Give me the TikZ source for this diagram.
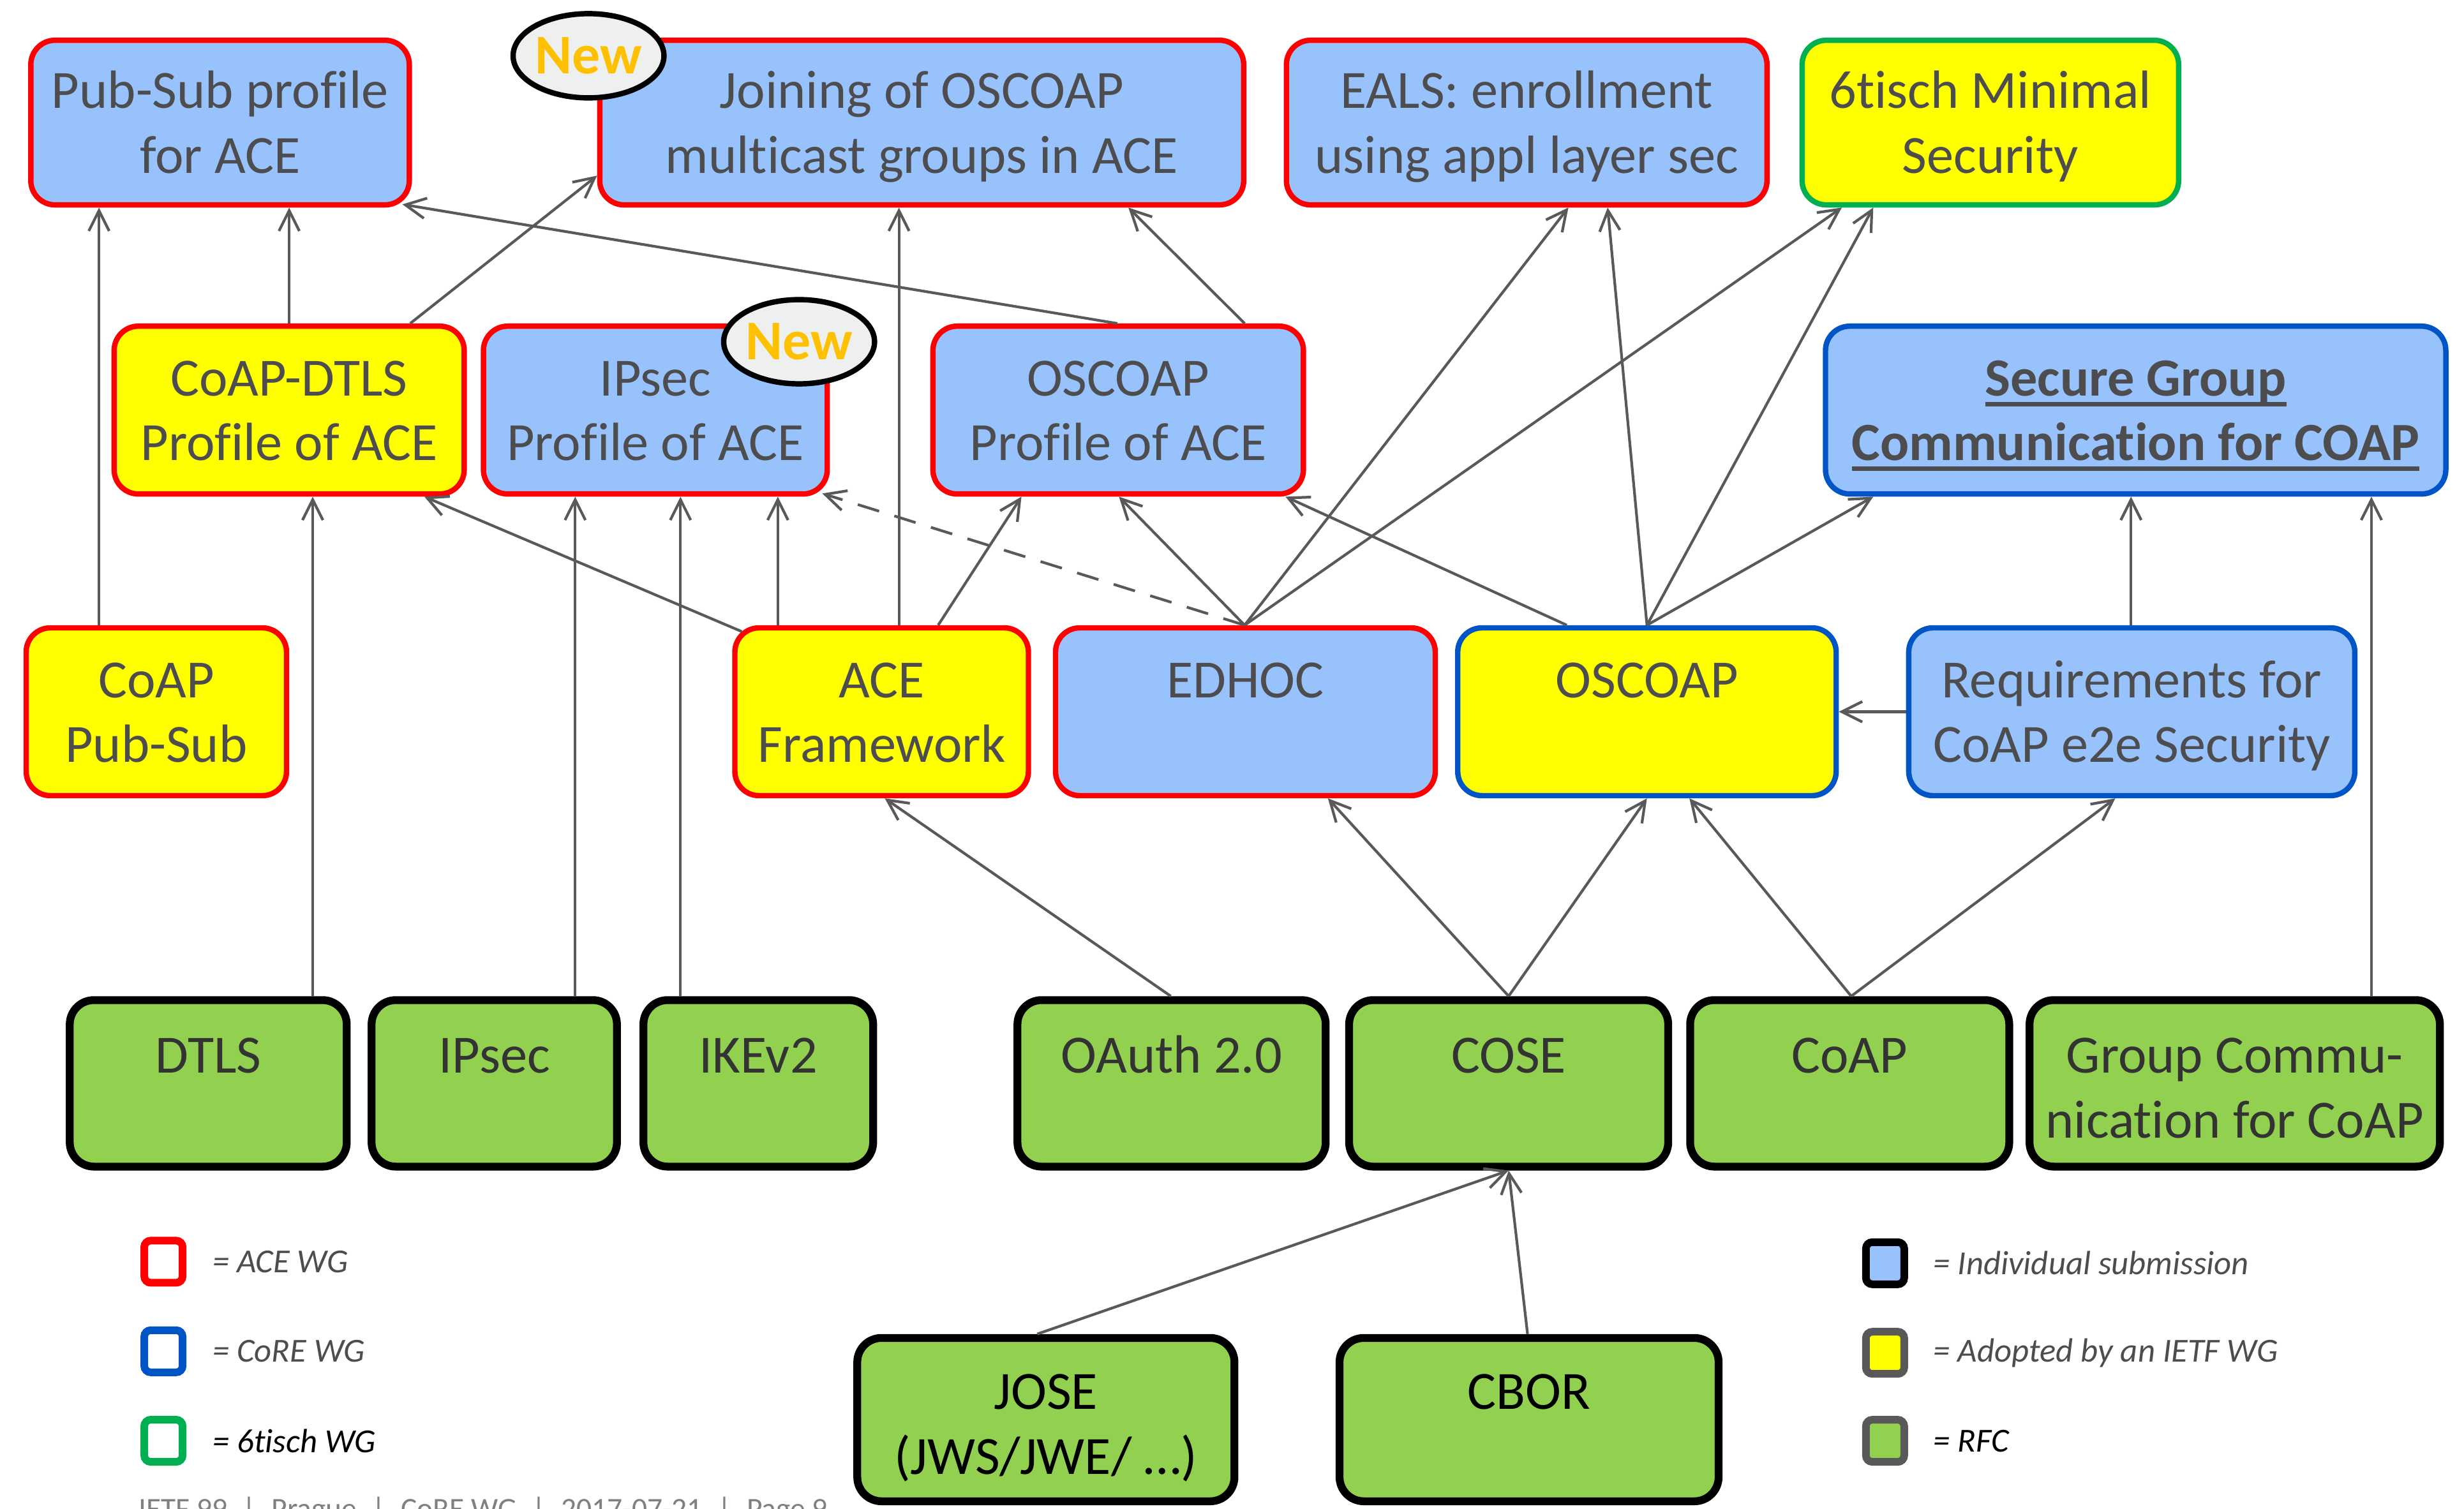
\documentclass[tikz,border=0pt]{standalone}
\usepackage{fontspec}
\setmainfont{Carlito}[Ligatures=NoCommon]
\usetikzlibrary{arrows.meta,shapes.geometric,calc}
\definecolor{sub}{RGB}{151,194,252}
\definecolor{adp}{RGB}{255,255,0}
\definecolor{rfcg}{RGB}{146,208,80}
\definecolor{acered}{RGB}{255,0,0}
\definecolor{corebl}{RGB}{0,85,198}
\definecolor{tschgr}{RGB}{0,176,80}
\definecolor{txt}{RGB}{77,77,79}
\definecolor{arrg}{RGB}{89,89,89}
\definecolor{newo}{RGB}{255,192,0}
\definecolor{newg}{RGB}{238,240,239}
\newcommand\ulbar[1]{\setbox0\hbox{#1}\rlap{\copy0}\rule[-4.6pt]{\wd0}{1.9pt}}
\newcommand\hs{\rule{0pt}{22.2pt}}
\newcommand\hr{\rule{0pt}{25.7pt}}
\newcommand\ds{\rule[-6pt]{0pt}{6pt}}
\tikzset{box/.style={draw,rounded corners=3.8mm,align=center,text=txt,line width=2.4pt,inner sep=0pt},
 aceb/.style={box,draw=acered,fill=sub},acey/.style={box,draw=acered,fill=adp},
 coreb/.style={box,draw=corebl,fill=sub},corey/.style={box,draw=corebl,fill=adp},
 tschy/.style={box,draw=tschgr,fill=adp},
 rfc/.style={box,draw=black,fill=rfcg,line width=3.5pt,text=black!80},
 arr/.style={-{Straight Barb[length=3.2mm,width=3.2mm]},line width=1.2pt,draw=arrg},
 new/.style={ellipse,draw=black,line width=2.4pt,fill=newg,text=newo,inner sep=0pt,
  minimum width=2.31cm,minimum height=1.32cm,font=\fontsize{25}{30}\selectfont\bfseries},
 key/.style={draw,rounded corners=1mm,line width=3.4pt,minimum width=.6cm,minimum height=.66cm,inner sep=0pt},
 keytxt/.style={anchor=west,inner sep=0pt,text=txt,font=\fontsize{15}{18}\selectfont\itshape},
 every node/.style={font=\fontsize{24}{28.8}\selectfont}}
\begin{document}
\begin{tikzpicture}[x=1cm,y=1cm]
\useasboundingbox (0,0) rectangle (38.61,-23.65);
\node[aceb,minimum width=5.93cm,minimum height=2.58cm] (pubsub) at (3.448,-1.921) {\hs Pub-Sub profile\\for ACE\ds};
\node[aceb,minimum width=10.09cm,minimum height=2.58cm] (joining) at (14.443,-1.921) {\hs Joining of OSCOAP\\multicast groups in ACE\ds};
\node[aceb,minimum width=7.53cm,minimum height=2.58cm] (eals) at (23.923,-1.921) {\hs EALS: enrollment\\using appl layer sec\ds};
\node[tschy,minimum width=5.9cm,minimum height=2.58cm] (minsec) at (31.188,-1.921) {\hs 6tisch Minimal\\Security\ds};
\node[acey,minimum width=5.485cm,minimum height=2.63cm] (dtlsprof) at (4.531,-6.427) {\hs CoAP-DTLS\\Profile of ACE\ds};
\node[aceb,minimum width=5.387cm,minimum height=2.63cm] (ipsecprof) at (10.269,-6.427) {\hs IPsec\\Profile of ACE\ds};
\node[aceb,minimum width=5.805cm,minimum height=2.63cm] (oscoapprof) at (17.521,-6.427) {\hs OSCOAP\\Profile of ACE\ds};
\node[coreb,minimum width=9.72cm,minimum height=2.63cm,font=\fontsize{24}{28.8}\selectfont\bfseries] (groupsec) at (33.465,-6.427) {\hs\ulbar{Secure Group}\\\ulbar{Communication for COAP}\ds};
\node[acey,minimum width=4.08cm,minimum height=2.63cm] (coappubsub) at (2.45,-11.155) {\hs CoAP\\Pub-Sub\ds};
\node[acey,minimum width=4.6cm,minimum height=2.63cm] (ace) at (13.815,-11.155) {\hs ACE\\Framework\ds};
\node[aceb,minimum width=5.95cm,minimum height=2.63cm] (edhoc) at (19.515,-11.155) {\hs EDHOC\\\ds};
\node[corey,minimum width=5.93cm,minimum height=2.63cm] (oscoap) at (25.807,-11.155) {\hs OSCOAP\\\ds};
\node[coreb,minimum width=6.99cm,minimum height=2.63cm] (e2ereq) at (33.404,-11.155) {\hs Requirements for\\CoAP e2e Security\ds};
\node[rfc,minimum width=4.34cm,minimum height=2.61cm] (dtls) at (3.263,-16.979) {\hr DTLS\\\ds};
\node[rfc,minimum width=3.845cm,minimum height=2.61cm] (ipsec) at (7.745,-16.979) {\hr IPsec\\\ds};
\node[rfc,minimum width=3.6cm,minimum height=2.61cm] (ikev2) at (11.882,-16.979) {\hr IKEv2\\\ds};
\node[rfc,minimum width=4.83cm,minimum height=2.61cm] (oauth) at (18.358,-16.979) {\hr OAuth 2.0\\\ds};
\node[rfc,minimum width=5cm,minimum height=2.61cm] (cose) at (23.64,-16.979) {\hr COSE\\\ds};
\node[rfc,minimum width=5cm,minimum height=2.61cm] (coap) at (28.984,-16.979) {\hr CoAP\\\ds};
\node[rfc,minimum width=6.43cm,minimum height=2.61cm] (groupcomm) at (35.017,-16.979) {\hr Group Commu-\\nication for CoAP\ds};
\node[rfc,text=black,minimum width=5.91cm,minimum height=2.56cm] (jose) at (16.388,-22.249) {\hr JOSE\\(JWS/JWE/ …)\ds};
\node[rfc,text=black,minimum width=5.94cm,minimum height=2.56cm] (cbor) at (23.96,-22.249) {\hr CBOR\\\ds};
\node[new] (newjoin) at (9.222,-0.874) {New};
\node[new] (newipsec) at (12.522,-5.356) {New};
\draw[arr] (1.551,0 |- coappubsub.north) -- (1.551,0 |- pubsub.south);
\draw[arr] (dtlsprof.north) -- (dtlsprof.north |- pubsub.south);
\draw[arr] (6.427,0 |- dtlsprof.north) -- ([yshift=5mm]joining.south west);
\draw[arr] (17.51,0 |- oscoapprof.north) -- ([shift={(-1.5mm,.5mm)}]pubsub.south east);
\draw[arr] (19.503,0 |- oscoapprof.north) -- (17.681,0 |- joining.south);
\draw[arr] (14.086,0 |- ace.north) -- (14.086,0 |- joining.south);
\draw[arr] ([shift={(1.5mm,-1mm)}]ace.north west) -- (6.649,0 |- dtlsprof.south);
\draw[arr] (12.189,0 |- ace.north) -- (12.189,0 |- ipsecprof.south);
\draw[arr] (14.701,0 |- ace.north) -- (16.006,0 |- oscoapprof.south);
\draw[arr,dashed,dash pattern=on 3.5mm off 2.5mm] (19.503,0 |- edhoc.north) -- ([shift={(-1.2mm,.5mm)}]ipsecprof.south east);
\foreach \t/\x in {oscoapprof/17.533,eals/24.576,minsec/28.861}{\draw[arr] (19.503,0 |- edhoc.north) -- (\x,0 |- \t.south);}
\draw[arr] (24.551,0 |- oscoap.north) -- (20.143,0 |- oscoapprof.south);
\foreach \t/\x in {eals/25.191,minsec/29.353,groupsec/29.353}{\draw[arr] (oscoap.north) -- (\x,0 |- \t.south);}
\draw[arr] (e2ereq.west) -- (oscoap.east);
\draw[arr] (33.392,0 |- e2ereq.north) -- (33.392,0 |- groupsec.south);
\draw[arr] (37.159,0 |- groupcomm.north) -- (37.159,0 |- groupsec.south);
\draw[arr] (4.9,0 |- dtls.north) -- (4.9,0 |- dtlsprof.south);
\draw[arr] (9.013,0 |- ipsec.north) -- (9.013,0 |- ipsecprof.south);
\draw[arr] (10.663,0 |- ikev2.north) -- (10.663,0 |- ipsecprof.south);
\draw[arr] (18.346,0 |- oauth.north) -- (13.864,0 |- ace.south);
\draw[arr] (cose.north) -- (20.808,0 |- edhoc.south);
\draw[arr] (cose.north) -- (oscoap.south);
\draw[arr] (29.008,0 |- coap.north) -- (26.472,0 |- oscoap.south);
\draw[arr] (29.008,0 |- coap.north) -- (33.145,0 |- e2ereq.south);
\draw[arr] (16.253,0 |- jose.north) -- (cose.south);
\draw[arr] (23.936,0 |- cbor.north) -- (cose.south);
\node[key,draw=acered] (kace) at (2.561,-19.774) {};
\node[key,draw=corebl] (kcore) at (2.561,-21.178) {};
\node[key,draw=tschgr] (ktsch) at (2.561,-22.581) {};
\node[keytxt] (tace) at (3.324,-19.774) {= ACE WG};
\node[keytxt] (tcore) at (3.324,-21.178) {= CoRE WG};
\node[keytxt,text=black] (ttsch) at (3.324,-22.581) {= 6tisch WG};
\node[key,draw=black,fill=sub] (kind) at (29.538,-19.798) {};
\node[key,draw=arrg,fill=adp] (kadp) at (29.538,-21.202) {};
\node[key,draw=arrg,fill=rfcg] (krfc) at (29.538,-22.581) {};
\node[keytxt] (tind) at (30.289,-19.798) {= Individual submission};
\node[keytxt] (tadp) at (30.289,-21.202) {= Adopted by an IETF WG};
\node[keytxt,text=black] (trfc) at (30.289,-22.581) {= RFC};
\node[anchor=base west,inner sep=0pt,text=black!50,font=\fontsize{13.5}{16}\selectfont] (footer) at (2.167,-23.8) {IETF 99\enspace|\enspace Prague\enspace|\enspace CoRE WG\enspace|\enspace 2017-07-21\enspace|\enspace Page 9};
\end{tikzpicture}
\end{document}
